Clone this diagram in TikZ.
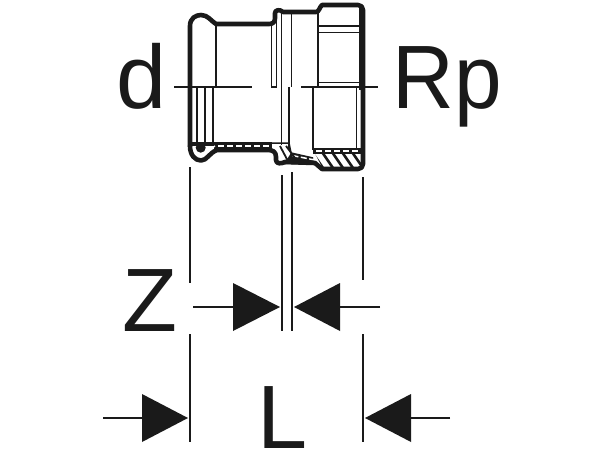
\documentclass[tikz,border=0pt]{standalone}
\usepackage{fontspec}
\setmainfont{Liberation Sans}
\definecolor{ink}{HTML}{1A1A1A}
\tikzset{
  thickline/.style={line width=4.6pt,line join=round,line cap=round,draw=ink},
  thinline/.style={line width=1.5pt,draw=ink},
  dimline/.style={line width=1.6pt,draw=ink},
  centerline/.style={line width=1.8pt,draw=ink},
  tipshape/.style={fill=ink,draw=none},
  bigtext/.style={font=\fontsize{90}{90}\selectfont,text=ink,inner sep=0pt,anchor=base},
  hatchstroke/.style={draw=ink,line width=2.6pt},
  walldash/.style={draw=white,line width=1.6pt,dash pattern=on 6pt off 3pt}
}
\begin{document}
\begin{tikzpicture}[x=1pt,y=-1pt]
\useasboundingbox (0,0) rectangle (600,450);
% inner lines, upper half
\draw[thinline] (216,24) -- (216,88);
\draw[thinline] (271.5,24) -- (271.5,87) -- (276.5,87) -- (276.5,20);
\draw[thinline] (281.5,11) -- (281.5,145);
\draw[thinline] (291.5,12) -- (291.5,87);
\draw[thinline] (289,87) -- (289,150);
\draw[thinline] (318,12) -- (318,86);
\draw[thinline] (360,8) -- (360,90);
\draw[thinline] (318,26) -- (360,26);
\draw[thinline] (318,32.5) -- (360,32.5);
\draw[thinline] (318,82.5) -- (360,82.5);
% inner lines, lower half
\draw[thinline] (197,87) -- (197,143);
\draw[thinline] (205,87) -- (205,143);
\draw[thinline] (213,87) -- (213,143);
\draw[thinline] (313,87) -- (313,150);
\draw[thinline] (356.5,87) -- (356.5,150);
% left wall and socket
\fill[ink] (214,142.3) rectangle (272,152.3);
\draw[walldash] (218,145.8) -- (270,145.8);
\fill[ink] (190,142.3) rectangle (214,146);
\draw[white,line width=1.3pt,dash pattern=on 4pt off 2pt] (192.5,150) .. controls (195,156) and (205,158) .. (209,151) -- (215,145.8);
\fill[ink] (200.7,147.7) circle[radius=5];
% centre collar
\draw[ink,line width=1.5pt] (270,143) -- (289,143) -- (291,153) -- (313,158);
\fill[ink] (291,153) -- (313,158) -- (315,165) -- (284,164) -- cycle;
\draw[white,line width=1.5pt,dash pattern=on 6pt off 2.5pt] (292.5,155.6) -- (314,159.8);
\draw[hatchstroke,line width=1.8pt] (280,146) -- (289,163);
\draw[hatchstroke,line width=1.8pt] (286,146) -- (295,158);
% right wall with hatching
\fill[ink] (313,148.4) rectangle (362,153.6);
\draw[walldash] (316,151) -- (360,151);
\begin{scope}
\clip (315,153.6) -- (362,153.6) -- (362,167) -- (322,167) -- cycle;
\foreach \k in {312,322,332,342,352,362}{
  \draw[hatchstroke] (\k,152) -- (\k+11,168);
}
\end{scope}
% outer contour
\draw[thickline] (190,146) -- (190,26) .. controls (190,18) and (196,15) .. (201,15) .. controls (208,15) and (211,21) .. (216,24) -- (269,24) .. controls (273,24) and (275,22) .. (275,18) -- (275,13) .. controls (275,10) and (280,9) .. (283,12) -- (316,12) .. controls (319,12) and (319,8) .. (322,5) -- (358,5) .. controls (361,5) and (363,7) .. (363,10) -- (363,164) .. controls (363,167) and (361,169) .. (358,169) -- (322,169) -- (315,163) -- (285,162);
\draw[thickline] (190,146) .. controls (190,155) and (195,160.5) .. (201,160.5) .. controls (207,160.5) and (209,153) .. (217,150) -- (268,150) .. controls (273,150) and (276,152) .. (276,157) -- (276,160) .. controls (276,164) and (281,164) .. (285,162);
% centre lines
\draw[centerline] (174,87) -- (252,87);
\draw[centerline] (301,87) -- (378,87);
% dimension lines
\coordinate (e1a) at (190,167); \coordinate (e1b) at (190,283);
\coordinate (e1c) at (190,334); \coordinate (e1d) at (190,442);
\coordinate (e2a) at (282,175); \coordinate (e2b) at (282,331);
\coordinate (e3a) at (292,172); \coordinate (e3b) at (292,331);
\coordinate (e4a) at (363,177); \coordinate (e4b) at (363,280);
\coordinate (e4c) at (363,334); \coordinate (e4d) at (363,442);
\draw[dimline] (e1a) -- (e1b) (e1c) -- (e1d) (e2a) -- (e2b) (e3a) -- (e3b) (e4a) -- (e4b) (e4c) -- (e4d);
% arrows
\coordinate (t1) at (193,307); \coordinate (t2) at (380,307);
\coordinate (t3) at (103,418); \coordinate (t4) at (450,418);
\draw[dimline] (t1) -- (233,307) (t2) -- (340,307) (t3) -- (142,418) (t4) -- (411,418);
\fill[tipshape] (233,283) -- (280,307) -- (233,331) -- cycle;
\fill[tipshape] (340,283) -- (294,307) -- (340,331) -- cycle;
\fill[tipshape] (142,394) -- (188,418) -- (142,442) -- cycle;
\fill[tipshape] (411,394) -- (365,418) -- (411,442) -- cycle;
% labels
\node[bigtext] (d) at (142,108) {d};
\node[bigtext,xscale=0.95] (rp) at (447,108) {Rp};
\node[bigtext] (z) at (149.5,331) {Z};
\node[bigtext] (l) at (283,448) {L};
\end{tikzpicture}
\end{document}
